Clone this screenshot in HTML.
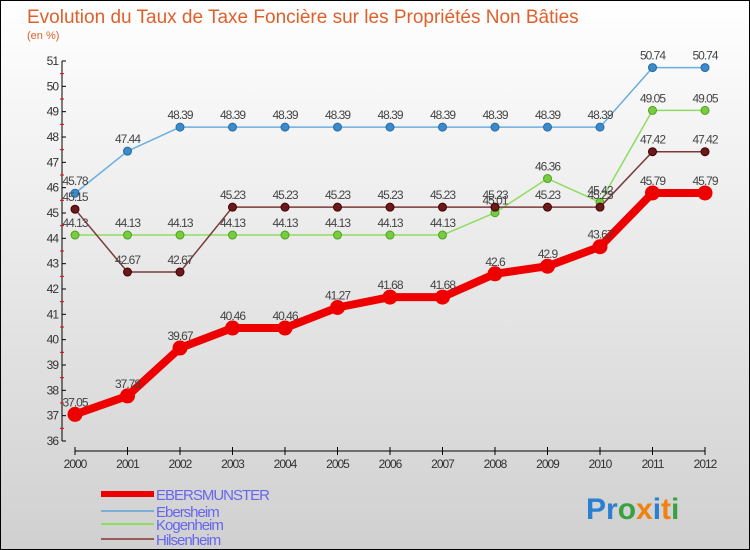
<!DOCTYPE html>
<html><head><meta charset="utf-8"><style>
body{margin:0;width:750px;height:550px;overflow:hidden;font-family:"Liberation Sans",sans-serif}
#wrap{position:relative;width:748px;height:548px;border:1px solid #000;background:linear-gradient(#ffffff,#d0d0d0)}
</style></head><body>
<div id="wrap">
<svg id="chart" width="748" height="548" style="position:absolute;left:0;top:0">
<text x="26" y="22" font-size="19" fill="#e0602c">Evolution du Taux de Taxe Foncière sur les Propriétés Non Bâties</text>
<text x="26" y="38" font-size="11" fill="#e0602c">(en %)</text>
<g id="axes"></g><g id="series"></g><g id="legend"></g>
<text x="585" y="518" font-size="30" font-weight="bold"><tspan fill="#2a7fd0">Pr</tspan><tspan fill="#3aa040">o</tspan><tspan fill="#f08010">x</tspan><tspan fill="#2a7fd0">i</tspan><tspan fill="#f08010">t</tspan><tspan fill="#3aa040">i</tspan></text>
</svg>
</div>
<script>
const years=[2000,2001,2002,2003,2004,2005,2006,2007,2008,2009,2010,2011,2012];
const ebersmunster=[37.05,37.78,39.67,40.46,40.46,41.27,41.68,41.68,42.6,42.9,43.67,45.79,45.79];
const ebersheim=[45.78,47.44,48.39,48.39,48.39,48.39,48.39,48.39,48.39,48.39,48.39,50.74,50.74];
const kogenheim=[44.13,44.13,44.13,44.13,44.13,44.13,44.13,44.13,45.01,46.36,45.42,49.05,49.05];
const hilsenheim=[45.15,42.67,42.67,45.23,45.23,45.23,45.23,45.23,45.23,45.23,45.23,47.42,47.42];
const yTicks=[36,37,38,39,40,41,42,43,44,45,46,47,48,49,50,51];
const NS="http://www.w3.org/2000/svg";
const X=i=>74+i*52.5;
const Y=v=>440-(v-36)*(380/15);
function mk(p,t,a){const e=document.createElementNS(NS,t);for(const k in a)e.setAttribute(k,a[k]);p.appendChild(e);return e;}
const ax=document.getElementById('axes');
let l=mk(ax,'line',{x1:61,y1:Y(51),x2:61,y2:Y(36),stroke:'#000'});


l=mk(ax,'line',{x1:X(0),y1:450,x2:X(12),y2:450,stroke:'#000'});


yTicks.forEach(v=>{
 mk(ax,'line',{x1:61,y1:Y(v),x2:65,y2:Y(v),stroke:'#000'});
 if(v<51) mk(ax,'line',{x1:59,y1:Y(v+0.5),x2:63,y2:Y(v+0.5),stroke:'#e00'});
 const t=mk(ax,'text',{x:57,y:Y(v)+4,'font-size':12,'text-anchor':'end',fill:'#333','letter-spacing':'-1'});
 t.textContent=v;
 
 
});
years.forEach((yr,i)=>{
 mk(ax,'line',{x1:X(i),y1:446,x2:X(i),y2:454,stroke:'#000'});
 const t=mk(ax,'text',{x:X(i),y:467,'font-size':12,'text-anchor':'middle',fill:'#333','letter-spacing':'-1'});
 t.textContent=yr;
 
 
});
const sg=document.getElementById('series');
function series(name,data,color,w,r,dot,stroke){
 const g=mk(sg,'g',{});
 
 
 const pl=mk(g,'polyline',{points:data.map((v,i)=>X(i)+','+Y(v)).join(' '),fill:'none',stroke:color,'stroke-width':w,'stroke-linejoin':'round'});
 
 
 data.forEach((v,i)=>{
  const c=mk(g,'circle',{cx:X(i),cy:Y(v),r:r,fill:dot,stroke:stroke,'stroke-width':1});
  
  
  const t=mk(g,'text',{x:X(i),y:Y(v)-8,'font-size':12,'text-anchor':'middle',fill:'#444','letter-spacing':'-1'});
  t.textContent=v;
  
  
 });
}
series('ebersheim',ebersheim,'#6aaee0',1.5,4,'#3a8acc','#2a6aa0');
series('kogenheim',kogenheim,'#90dc60',1.5,4,'#78cc40','#50a020');
series('hilsenheim',hilsenheim,'#7a3a3a',1.5,4,'#6a1a1a','#400');
series('ebersmunster',ebersmunster,'#ee0000',8,7,'#ee0000','#e00');
const lg=document.getElementById('legend');
[['EBERSMUNSTER','#ee0000',6,493],['Ebersheim','#7ab0d8',2,510],['Kogenheim','#90dc60',2,523],['Hilsenheim','#9a5a5a',2,538]].forEach(([n,c,w,y])=>{
 const g=mk(lg,'g',{});
 
 
 mk(g,'line',{x1:100,y1:y,x2:153,y2:y,stroke:c,'stroke-width':w});
 const t=mk(g,'text',{x:155,y:y+6,'font-size':15,fill:'#6666ee','letter-spacing':'-1'});
 t.textContent=n;
});
</script>
</body></html>
